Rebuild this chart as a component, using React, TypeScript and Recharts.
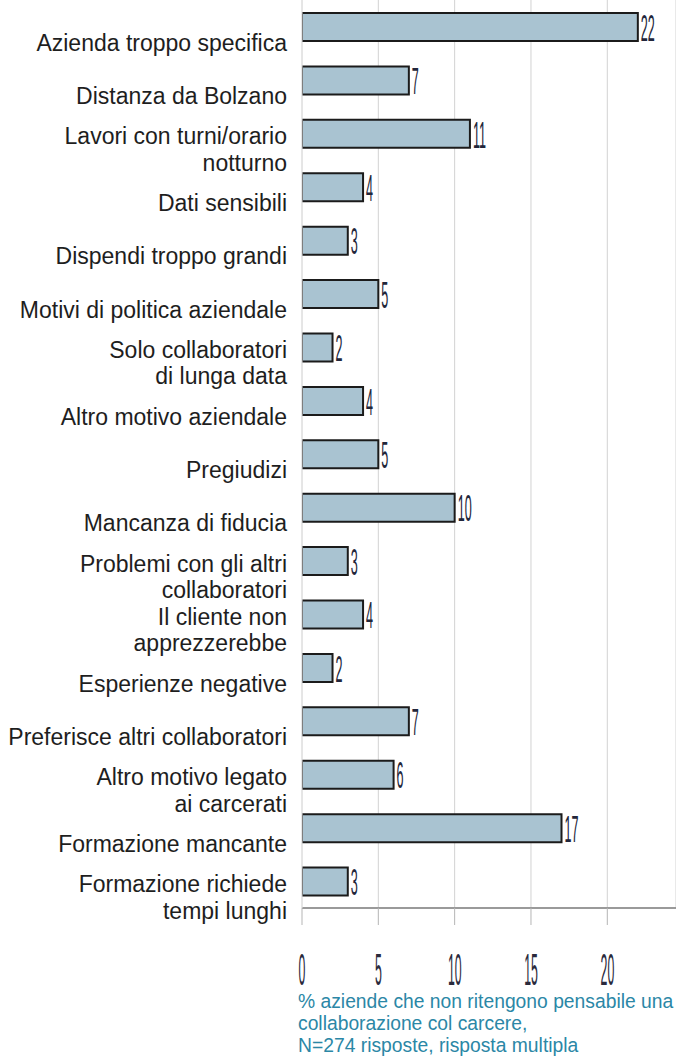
import { BarChart, Bar, XAxis, YAxis, CartesianGrid, LabelList } from 'recharts';

const categories = [
  'Azienda troppo specifica',
  'Distanza da Bolzano',
  'Lavori con turni/orario\nnotturno',
  'Dati sensibili',
  'Dispendi troppo grandi',
  'Motivi di politica aziendale',
  'Solo collaboratori\ndi lunga data',
  'Altro motivo aziendale',
  'Pregiudizi',
  'Mancanza di fiducia',
  'Problemi con gli altri\ncollaboratori',
  'Il cliente non\napprezzerebbe',
  'Esperienze negative',
  'Preferisce altri collaboratori',
  'Altro motivo legato\nai carcerati',
  'Formazione mancante',
  'Formazione richiede\ntempi lunghi',
];

const values = [22, 7, 11, 4, 3, 5, 2, 4, 5, 10, 3, 4, 2, 7, 6, 17, 3];

const xTicks = [0, 5, 10, 15, 20];

const captionLines = [
  '% aziende che non ritengono pensabile una',
  'collaborazione col carcere,',
  'N=274 risposte, risposta multipla',
];

const rows = categories.map((name, i) => ({ name, value: values[i] }));

const sans = '"Liberation Sans", Arimo, Helvetica, Arial, sans-serif';

// tall narrow digits, like the original's condensed font
function NarrowText({ x, y, text, size, sx, fill }: any) {
  return (
    <g transform={`translate(${x},${y}) scale(${sx},1)`}>
      <text x={0} y={0} fontSize={size} fontFamily={sans} fill={fill} dominantBaseline="central">
        {text}
      </text>
    </g>
  );
}

function CategoryTick({ y, payload }: any) {
  const lines = String(payload.value).split('\n');
  const lh = 26.5;
  const first = y + 16 - ((lines.length - 1) * lh) / 2;
  return (
    <text
      x={287}
      y={first}
      textAnchor="end"
      dominantBaseline="central"
      fontSize={23}
      fontFamily={sans}
      fill="#1e1e1e"
    >
      {lines.map((l, i) => (
        <tspan key={i} x={287} dy={i === 0 ? 0 : lh}>
          {l}
        </tspan>
      ))}
    </text>
  );
}

function ValueTick({ x, payload }: any) {
  const w = String(payload.value).length * 0.55 * 44 * 0.28;
  return <NarrowText x={x - w / 2} y={970} text={payload.value} size={44} sx={0.28} fill="#2a2a3c" />;
}

function BarValue({ x, y, width, height, value }: any) {
  return <NarrowText x={x + width + 3} y={y + height / 2 + 1} text={value} size={37} sx={0.34} fill="#22263a" />;
}

export default function App() {
  return (
    <div style={{ position: 'fixed', left: 0, top: 0, width: 676, height: 1057, background: '#fff' }}>
      <BarChart
        width={676}
        height={1057}
        data={rows}
        layout="vertical"
        margin={{ top: 0, right: 0, bottom: 89, left: 0 }}
        barCategoryGap={0}
      >
        <CartesianGrid horizontal={false} stroke="#d2d2d2" strokeWidth={1} />
        <XAxis
          type="number"
          domain={[0, 24.5]}
          ticks={xTicks}
          height={60}
          axisLine={{ stroke: '#9a9a9a', strokeWidth: 2 }}
          tickLine={{ stroke: '#b5b5b5' }}
          tickSize={17}
          tick={<ValueTick />}
          allowDataOverflow
        />
        <YAxis
          type="category"
          dataKey="name"
          width={302}
          axisLine={{ stroke: '#e2e2e2' }}
          tickLine={false}
          interval={0}
          tick={<CategoryTick />}
        />
        <Bar dataKey="value" barSize={28} fill="#a9c3d1" stroke="#1b1b1b" strokeWidth={2} isAnimationActive={false}>
          <LabelList dataKey="value" content={<BarValue />} />
        </Bar>
      </BarChart>
      <div
        style={{
          position: 'absolute',
          left: 298,
          top: 991,
          fontFamily: sans,
          fontSize: 19.3,
          lineHeight: '22px',
          color: '#2b87a6',
          whiteSpace: 'nowrap',
        }}
      >
        {captionLines.map((l, i) => (
          <div key={i}>{l}</div>
        ))}
      </div>
    </div>
  );
}
